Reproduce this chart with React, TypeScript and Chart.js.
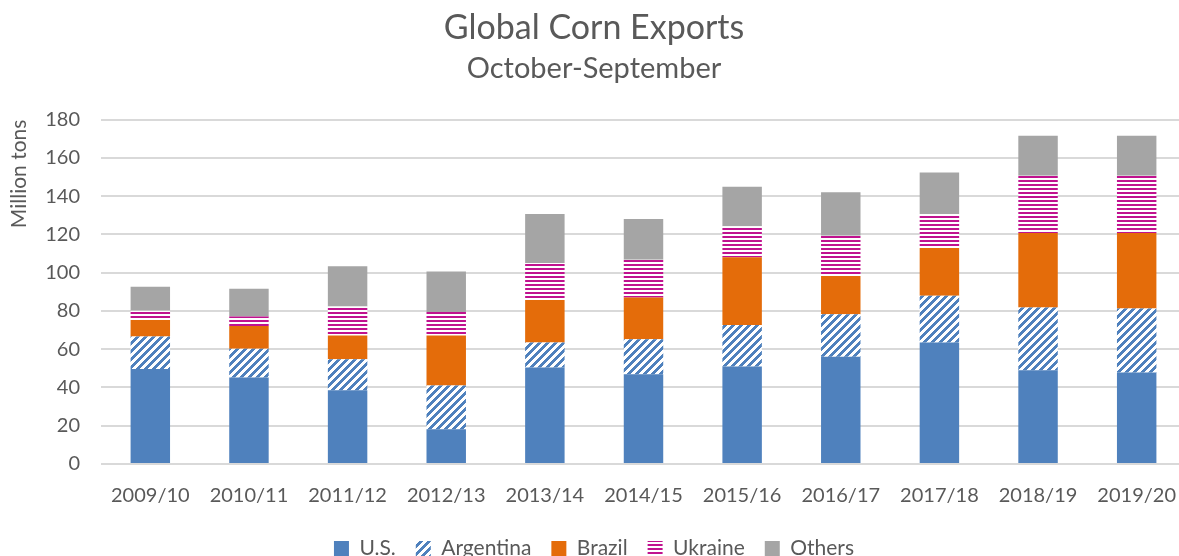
import React, { useEffect, useRef } from "react";
import { Chart, registerables } from "chart.js";

Chart.register(...registerables);

const categories = [
  "2009/10", "2010/11", "2011/12", "2012/13", "2013/14", "2014/15",
  "2015/16", "2016/17", "2017/18", "2018/19", "2019/20",
];
const usValues = [49.6, 45.2, 38.6, 18.1, 50.4, 46.9, 50.9, 56.0, 63.5, 49.0, 47.8];
const argentinaValues = [17.0, 15.1, 16.2, 22.9, 13.1, 18.3, 21.7, 22.3, 24.4, 32.8, 33.5];
const brazilValues = [8.6, 11.8, 12.3, 26.1, 22.2, 21.8, 35.4, 19.9, 25.0, 38.9, 39.4];
const ukraineValues = [4.9, 5.0, 15.2, 12.4, 19.3, 19.7, 16.2, 21.1, 17.8, 30.0, 30.0];
const othersValues = [12.5, 14.5, 21.1, 21.1, 25.7, 21.3, 20.7, 22.7, 21.6, 20.9, 20.9];
const yMin = 0;
const yMax = 180;
const yStep = 20;

const FONT = "Lato, 'Open Sans', sans-serif";
const TEXT = "#595959";
const BLUE = "#4F81BD";
const ORANGE = "#E46C0A";
const MAGENTA = "#C0128F";
const GRAY = "#A5A5A5";

function diagonalPattern(color: string): CanvasPattern | string {
  const c = document.createElement("canvas");
  c.width = 8;
  c.height = 8;
  const ctx = c.getContext("2d");
  if (!ctx) return color;
  ctx.fillStyle = "#ffffff";
  ctx.fillRect(0, 0, 8, 8);
  ctx.fillStyle = color;
  for (let y = 0; y < 8; y++) {
    for (let x = 0; x < 8; x++) {
      if ((x + y) % 8 < 4) ctx.fillRect(x, y, 1, 1);
    }
  }
  return ctx.createPattern(c, "repeat") || color;
}

function horizontalPattern(color: string): CanvasPattern | string {
  const c = document.createElement("canvas");
  c.width = 4;
  c.height = 4;
  const ctx = c.getContext("2d");
  if (!ctx) return color;
  ctx.fillStyle = "#ffffff";
  ctx.fillRect(0, 0, 4, 4);
  ctx.fillStyle = color;
  ctx.fillRect(0, 0, 4, 2);
  return ctx.createPattern(c, "repeat") || color;
}

export default function App() {
  const ref = useRef<HTMLCanvasElement | null>(null);

  useEffect(() => {
    if (!ref.current) return;
    const common = {
      borderWidth: 0,
      categoryPercentage: 0.4,
      barPercentage: 1,
    };
    const chart = new Chart(ref.current, {
      type: "bar",
      data: {
        labels: categories,
        datasets: [
          { label: "U.S.", data: usValues, backgroundColor: BLUE, ...common },
          { label: "Argentina", data: argentinaValues, backgroundColor: diagonalPattern(BLUE) as any, ...common },
          { label: "Brazil", data: brazilValues, backgroundColor: ORANGE, ...common },
          { label: "Ukraine", data: ukraineValues, backgroundColor: horizontalPattern(MAGENTA) as any, ...common },
          { label: "Others", data: othersValues, backgroundColor: GRAY, ...common },
        ],
      },
      options: {
        responsive: false,
        animation: false,
        layout: { padding: 0 },
        plugins: {
          title: {
            display: true,
            text: "Global Corn Exports",
            color: TEXT,
            font: { family: FONT, size: 34, weight: "normal" },
            padding: { top: 8, bottom: 0 },
          },
          subtitle: {
            display: true,
            text: "October-September",
            color: TEXT,
            font: { family: FONT, size: 29, weight: "normal" },
            padding: { top: 2, bottom: 34 },
          },
          legend: {
            position: "bottom",
            labels: {
              color: TEXT,
              font: { family: FONT, size: 21 },
              boxWidth: 15,
              boxHeight: 15,
              padding: 20,
            },
          },
          tooltip: { enabled: false },
        },
        scales: {
          x: {
            stacked: true,
            grid: { display: false },
            border: { display: false },
            ticks: {
              color: TEXT,
              font: { family: FONT, size: 20 },
              padding: 12,
              maxRotation: 0,
              autoSkip: false,
            },
            afterFit: (scale: any) => {
              scale.height = 54;
            },
          },
          y: {
            stacked: true,
            min: yMin,
            max: yMax,
            grid: { color: "#d9d9d9", lineWidth: 2, drawTicks: false },
            border: { display: false },
            ticks: {
              stepSize: yStep,
              color: TEXT,
              font: { family: FONT, size: 20 },
              padding: 21,
            },
            title: {
              display: true,
              text: "Million tons",
              align: "end",
              color: TEXT,
              font: { family: FONT, size: 21 },
              padding: { top: 7, bottom: 0 },
            },
            afterFit: (scale: any) => {
              scale.width = 101;
            },
          },
        },
      },
    });
    return () => chart.destroy();
  }, []);

  return (
    <div
      style={{
        position: "fixed",
        left: 0,
        top: 0,
        width: 1179,
        height: 556,
        overflow: "hidden",
        background: "#ffffff",
      }}
    >
      <canvas ref={ref} width={1188} height={569} style={{ width: 1188, height: 569, display: "block" }} />
    </div>
  );
}
